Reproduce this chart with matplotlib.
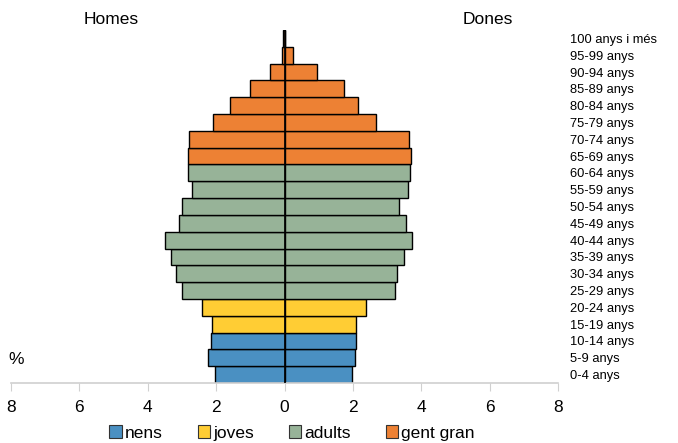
import matplotlib
matplotlib.use("Agg")
import matplotlib.pyplot as plt
from matplotlib.patches import Patch

plt.rcParams['font.family'] = ['Liberation Sans', 'DejaVu Sans']

age_labels = ["0-4 anys", "5-9 anys", "10-14 anys", "15-19 anys", "20-24 anys",
              "25-29 anys", "30-34 anys", "35-39 anys", "40-44 anys", "45-49 anys",
              "50-54 anys", "55-59 anys", "60-64 anys", "65-69 anys", "70-74 anys",
              "75-79 anys", "80-84 anys", "85-89 anys", "90-94 anys", "95-99 anys",
              "100 anys i més"]
homes = [2.04, 2.24, 2.14, 2.12, 2.42, 3.00, 3.17, 3.31, 3.49, 3.10, 3.00,
         2.70, 2.81, 2.82, 2.80, 2.08, 1.58, 1.02, 0.41, 0.08, 0.04]
dones = [1.98, 2.07, 2.09, 2.08, 2.39, 3.23, 3.28, 3.51, 3.72, 3.54, 3.34,
         3.61, 3.66, 3.70, 3.64, 2.68, 2.16, 1.73, 0.95, 0.24, 0.02]
group = ["nens"] * 3 + ["joves"] * 2 + ["adults"] * 8 + ["gent gran"] * 8
group_names = ["nens", "joves", "adults", "gent gran"]
group_colors = {"nens": "#4A90C2", "joves": "#FFCD34", "adults": "#97B398", "gent gran": "#ED8134"}
xticks = [-8, -6, -4, -2, 0, 2, 4, 6, 8]

fig = plt.figure(figsize=(6.78, 4.43), dpi=100)
ax = fig.add_axes([11/678, 60/443, 547/678, 353/443])

y = list(range(len(age_labels)))
cols = [group_colors[g] for g in group]
ax.barh(y, [-v for v in homes], height=1.0, color=cols, edgecolor="black", linewidth=1.0)
ax.barh(y, dones, height=1.0, color=cols, edgecolor="black", linewidth=1.0)
ax.axvline(0, color="black", linewidth=1.2, zorder=5)

ax.set_xlim(-8, 8)
ax.set_ylim(-0.5, len(age_labels) - 0.5)
ax.set_xticks(xticks)
ax.set_xticklabels([str(abs(t)) for t in xticks], fontsize=12.5)
ax.tick_params(axis='x', direction='out', length=6, color="#d0d0d0", pad=6)

ax.yaxis.tick_right()
ax.set_yticks(y)
ax.set_yticklabels(age_labels, fontsize=9.3)
ax.tick_params(axis='y', length=0, pad=9)

for s in ["left", "right", "top"]:
    ax.spines[s].set_visible(False)
ax.spines["bottom"].set_color("#d0d0d0")
ax.spines["bottom"].set_linewidth(1.2)

fig.text(111/678, 1 - 20/443, "Homes", fontsize=12.5, ha="center", va="center")
fig.text(488/678, 1 - 20/443, "Dones", fontsize=12.5, ha="center", va="center")
fig.text(16/678, 1 - 360/443, "%", fontsize=12.5, ha="center", va="center")

handles = [Patch(facecolor=group_colors[g], edgecolor="#333333", linewidth=0.8) for g in group_names]
fig.legend(handles, group_names, loc="center", bbox_to_anchor=(292/678, 1 - 433/443),
           ncol=4, frameon=False, fontsize=12.5, handlelength=0.7, handleheight=0.7,
           handletextpad=0.2, columnspacing=2.0, borderpad=0)

fig.savefig("out.png", dpi=100)
